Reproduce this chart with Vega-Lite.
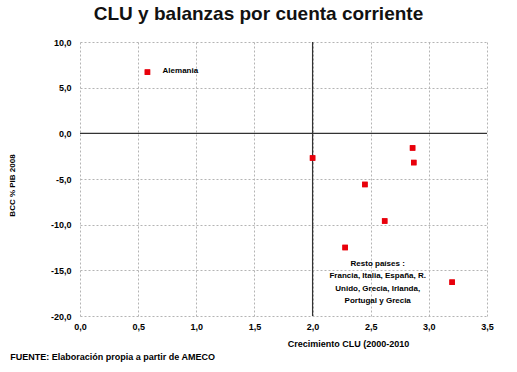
{
  "$schema": "https://vega.github.io/schema/vega-lite/v6.json",
  "width": 407,
  "height": 274,
  "autosize": {"type": "none"},
  "padding": {"left": 80, "top": 42, "right": 30, "bottom": 56},
  "background": "white",
  "config": {
    "view": {"stroke": null},
    "font": "Liberation Sans",
    "locale": {"number": {"decimal": ",", "thousands": ".", "grouping": [3], "currency": ["", " €"], "minus": "-"}}
  },
  "title": {
    "text": "CLU y balanzas por cuenta corriente",
    "fontSize": 19,
    "fontWeight": "bold",
    "font": "Liberation Sans",
    "color": "#111",
    "anchor": "middle",
    "dx": -25,
    "offset": 14
  },
  "datasets": {
    "pts": [
      {"clu": 0.58, "bcc": 6.7},
      {"clu": 2.0, "bcc": -2.7},
      {"clu": 2.86, "bcc": -1.6},
      {"clu": 2.87, "bcc": -3.2},
      {"clu": 2.45, "bcc": -5.6},
      {"clu": 2.62, "bcc": -9.6},
      {"clu": 2.28, "bcc": -12.5},
      {"clu": 3.2, "bcc": -16.3}
    ],
    "lab1": [
      {"clu": 0.71, "bcc": 6.8, "label": "Alemania"}
    ],
    "lab2": [
      {"clu": 2.56, "bcc": -14.3, "label": ["Resto países :", "Francia, Italia, España, R.", "Unido, Grecia, Irlanda,", "Portugal y Grecia"]}
    ],
    "footer": [
      {"clu": -0.6, "bcc": -24.5, "label": "FUENTE: Elaboración propia a partir de AMECO"}
    ]
  },
  "layer": [
    {
      "data": {"name": "pts"},
      "mark": {"type": "point", "shape": "square", "filled": true, "color": "#e8000b", "size": 30, "opacity": 1},
      "encoding": {
        "x": {
          "field": "clu", "type": "quantitative",
          "scale": {"domain": [0, 3.5], "nice": false, "zero": false},
          "axis": {
            "values": [0, 0.5, 1, 1.5, 2, 2.5, 3, 3.5],
            "format": ".1f",
            "title": "Crecimiento CLU (2000-2010",
            "titleFontSize": 9, "titleFontWeight": "bold", "titleColor": "#000",
            "titleX": 268, "titleY": 27, "titleAlign": "center", "titleBaseline": "middle",
            "labelFontSize": 9, "labelFontWeight": "bold", "labelColor": "#000",
            "labelPadding": 6, "labelFlush": false,
            "domain": false, "ticks": false,
            "grid": true, "gridColor": "#b4b4b4", "gridDash": [2, 2], "gridWidth": 1
          }
        },
        "y": {
          "field": "bcc", "type": "quantitative",
          "scale": {"domain": [-20, 10], "nice": false, "zero": false},
          "axis": {
            "values": [-20, -15, -10, -5, 0, 5, 10],
            "format": ".1f",
            "title": "BCC % PIB 2008",
            "titleFontSize": 8, "titleFontWeight": "bold", "titleColor": "#000",
            "titleX": -68, "titleY": 143, "titleAlign": "center", "titleBaseline": "middle", "titleAngle": -90,
            "labelFontSize": 9, "labelFontWeight": "bold", "labelColor": "#000",
            "labelPadding": 9, "labelFlush": false,
            "domain": false, "ticks": false,
            "grid": true, "gridColor": "#b4b4b4", "gridDash": [2, 2], "gridWidth": 1
          }
        }
      }
    },
    {
      "data": {"values": [{"v": 2}]},
      "mark": {"type": "rule", "color": "#333", "strokeWidth": 1.2},
      "encoding": {"x": {"field": "v", "type": "quantitative"}}
    },
    {
      "data": {"values": [{"v": 0}]},
      "mark": {"type": "rule", "color": "#333", "strokeWidth": 1.2},
      "encoding": {"y": {"field": "v", "type": "quantitative"}}
    },
    {
      "data": {"name": "pts"},
      "mark": {"type": "point", "shape": "square", "filled": true, "color": "#e8000b", "size": 30, "opacity": 1},
      "encoding": {
        "x": {"field": "clu", "type": "quantitative"},
        "y": {"field": "bcc", "type": "quantitative"}
      }
    },
    {
      "data": {"name": "lab1"},
      "mark": {"type": "text", "fontSize": 8, "fontWeight": "bold", "color": "#000", "align": "left", "baseline": "middle"},
      "encoding": {
        "x": {"field": "clu", "type": "quantitative"},
        "y": {"field": "bcc", "type": "quantitative"},
        "text": {"field": "label"}
      }
    },
    {
      "data": {"name": "lab2"},
      "mark": {"type": "text", "fontSize": 8, "fontWeight": "bold", "color": "#000", "align": "center", "baseline": "middle", "lineHeight": 12.5},
      "encoding": {
        "x": {"field": "clu", "type": "quantitative"},
        "y": {"field": "bcc", "type": "quantitative"},
        "text": {"field": "label"}
      }
    },
    {
      "data": {"name": "footer"},
      "mark": {"type": "text", "fontSize": 9, "fontWeight": "bold", "color": "#000", "align": "left", "baseline": "middle", "clip": false},
      "encoding": {
        "x": {"field": "clu", "type": "quantitative"},
        "y": {"field": "bcc", "type": "quantitative"},
        "text": {"field": "label"}
      }
    }
  ]
}
